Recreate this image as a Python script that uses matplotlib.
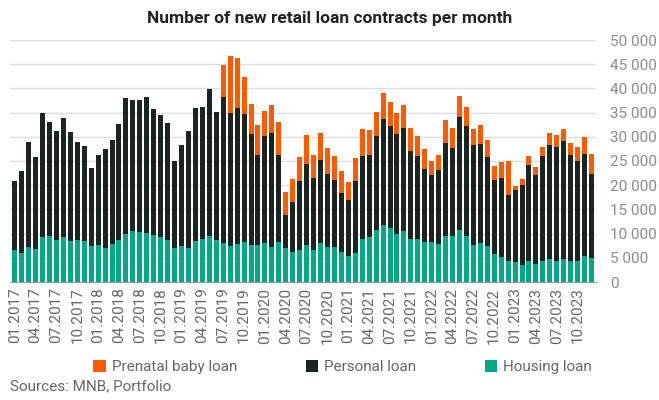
import numpy as np
import matplotlib
matplotlib.use("Agg")
import matplotlib.pyplot as plt

plt.rcParams['font.family'] = ['Roboto', 'DejaVu Sans']

# totals, housing+personal top, housing
total = [20900, 23000, 29000, 25900, 34860, 33000, 31100, 33800, 30900, 29000, 28200, 23600,
         26300, 27570, 29440, 32570, 38000, 37570, 37570, 38200, 35700, 34440, 32780, 25070,
         28400, 31300, 35900, 36100, 39860, 35070, 44860, 46740, 46300, 42360, 36740, 32360,
         35280, 36530, 32990, 18610, 21320, 25900, 30280, 26320, 30690, 27780, 26110, 22990,
         20690, 25690, 31530, 31320, 35070, 39030, 37150, 34860, 36530, 31740, 30070, 27570,
         25070, 26320, 33400, 31740, 38400, 36110, 31530, 32360, 29240, 24030, 24860, 25070,
         19860, 21320, 26110, 23820, 27990, 30690, 30280, 31530, 28820, 27990, 29860, 26530]
upper = [20900, 23000, 29000, 25900, 34860, 33000, 31100, 33800, 30900, 29000, 28200, 23600,
         26300, 27570, 29440, 32570, 38000, 37570, 37570, 38200, 35700, 34440, 32780, 25070,
         28400, 31300, 35900, 36100, 39860, 35070, 38200, 34860, 35900, 34650, 30490, 26320,
         30070, 30690, 26320, 13820, 16530, 20900, 24440, 21530, 25280, 22360, 21110, 18400,
         16940, 20900, 26110, 26320, 30070, 33610, 32150, 30490, 31740, 27150, 26110, 23400,
         22150, 23190, 28820, 27780, 34030, 32150, 28400, 28610, 25900, 21110, 21530, 17990,
         19030, 20070, 24240, 22150, 26110, 28400, 27990, 29030, 26320, 25070, 26530, 22360]
housing = [6530, 5900, 7150, 6740, 9240, 9440, 8600, 9240, 8400, 8600, 8400, 7360,
           7570, 6940, 7780, 8600, 9860, 10490, 10280, 10070, 9650, 9240, 8600, 6940,
           7360, 6940, 8400, 8820, 9440, 8600, 7990, 7360, 7780, 8190, 7570, 7570,
           7990, 7150, 8190, 6940, 6110, 6530, 7570, 6530, 7990, 7150, 7150, 6110,
           5280, 5900, 8820, 9240, 10690, 11740, 11110, 9860, 10490, 8820, 8820, 8190,
           8190, 7780, 9440, 9440, 10690, 9440, 7570, 7990, 7360, 5690, 5070, 4240,
           4030, 3610, 4240, 3820, 4440, 4650, 4440, 4650, 4440, 4440, 5280, 4860]

housing = np.array(housing)
personal = np.array(upper) - housing
prenatal = np.array(total) - np.array(upper)
months = [f"{m:02d}.{y}" for y in range(2017, 2024) for m in range(1, 13)]

fig = plt.figure(figsize=(6.59, 4.0), dpi=100)
ax = fig.add_axes([0.015, 0.295, 0.89, 0.605])
x = np.arange(len(months))
c_h, c_p, c_b = '#00A884', '#1B2421', '#FF5A00'
ax.bar(x, housing, 0.72, color=c_h, label='Housing loan', zorder=3)
ax.bar(x, personal, 0.72, bottom=housing, color=c_p, label='Personal loan', zorder=3)
ax.bar(x, prenatal, 0.72, bottom=housing + personal, color=c_b, label='Prenatal baby loan', zorder=3)

ax.set_xlim(-0.7, len(months) - 0.3)
ax.set_ylim(0, 50000)
ax.set_yticks(range(0, 50001, 5000))
ax.set_yticklabels([f"{v:,}".replace(",", " ") for v in range(0, 50001, 5000)])
ax.yaxis.tick_right()
ax.tick_params(axis='y', length=0, labelsize=11, colors='#8a8a8a', pad=10)
ax.set_xticks(x[::3])
ax.set_xticklabels(months[::3], rotation=90)
ax.tick_params(axis='x', length=0, labelsize=11, colors='#666666', pad=4)
ax.grid(axis='y', color='#dddddd', linewidth=1, zorder=0)
for s in ['top', 'left', 'right']:
    ax.spines[s].set_visible(False)
ax.spines['bottom'].set_color('#999999')

fig.text(0.5, 0.955, 'Number of new retail loan contracts per month', ha='center', va='center',
         fontsize=12.5, fontweight='bold', color='#222222')
h, l = ax.get_legend_handles_labels()
fig.legend(h[::-1], l[::-1], loc='center', bbox_to_anchor=(0.52, 0.082), ncol=3, frameon=False,
           fontsize=11, handlelength=0.8, handleheight=0.8, columnspacing=4.5, handletextpad=0.4,
           labelcolor='#666666')
fig.text(0.015, 0.035, 'Sources: MNB, Portfolio', fontsize=11, color='#666666', va='center')
fig.savefig('out.png', dpi=100)
